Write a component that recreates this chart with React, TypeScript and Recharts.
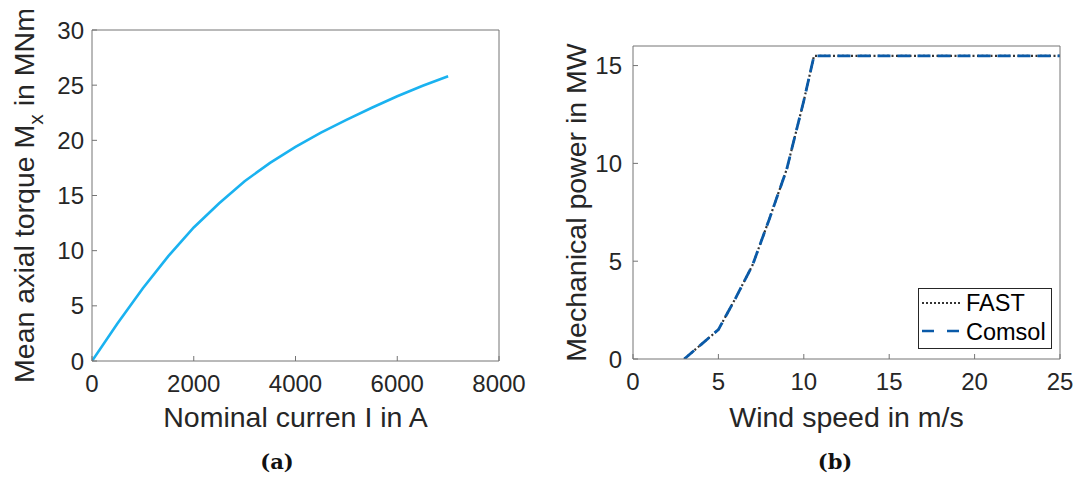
import { LineChart, Line, XAxis, YAxis } from 'recharts'

// (a) torque vs current
const currentA = [0, 500, 1000, 1500, 2000, 2500, 3000, 3500, 4000, 4500, 5000, 5500, 6000, 6500, 7000]
const torqueMNm = [0, 3.4, 6.6, 9.5, 12.1, 14.3, 16.3, 17.95, 19.4, 20.7, 21.85, 22.95, 24.0, 24.95, 25.8]
const currentTicks = [0, 2000, 4000, 6000, 8000]
const torqueTicks = [0, 5, 10, 15, 20, 25, 30]

// (b) power curve
const windSpeed = [3, 4, 5, 6, 7, 8, 9, 10, 10.6, 12, 14, 16, 18, 20, 22, 25]
const powerFast = [0, 0.75, 1.5, 3.1, 4.8, 7.2, 9.7, 13.2, 15.5, 15.5, 15.5, 15.5, 15.5, 15.5, 15.5, 15.5]
const powerComsol = [0, 0.75, 1.5, 3.1, 4.8, 7.2, 9.7, 13.2, 15.5, 15.5, 15.5, 15.5, 15.5, 15.5, 15.5, 15.5]
const windTicks = [0, 5, 10, 15, 20, 25]
const powerTicks = [0, 5, 10, 15]
const seriesNames = ['FAST', 'Comsol']

const torqueData = currentA.map((c, i) => ({ current: c, torque: torqueMNm[i] }))
const powerData = windSpeed.map((w, i) => ({ wind: w, fast: powerFast[i], comsol: powerComsol[i] }))

const AXIS = '#747474'
const TEXT = '#262626'
const FONT = '"Liberation Sans", Arial, Helvetica, sans-serif'
const TITLE = 28.5
const FAST_COLOR = '#333'
const COMSOL_COLOR = '#0A5AA8'
const tickStyle = { fontSize: 24, fill: TEXT, fontFamily: FONT }

function XTitle({ viewBox, text, dy }: any) {
  const vb = viewBox ?? { x: 0, y: 0, width: 0, height: 0 }
  return (
    <text x={vb.x + vb.width / 2} y={vb.y + dy} textAnchor="middle" fontSize={TITLE} fill={TEXT} fontFamily={FONT}>
      {text}
    </text>
  )
}

function TorqueTitle({ viewBox }: any) {
  const vb = viewBox ?? { x: 0, y: 30, width: 92, height: 331 }
  const cx = vb.x + 34
  const cy = vb.y + vb.height / 2
  return (
    <text x={cx} y={cy} transform={`rotate(-90, ${cx}, ${cy})`} textAnchor="middle" fontSize={TITLE} fill={TEXT} fontFamily={FONT}>
      Mean axial torque M<tspan fontSize={21} dy={9}>x</tspan>
      <tspan dy={-9}> in MNm</tspan>
    </text>
  )
}

function PowerTitle({ viewBox }: any) {
  const vb = viewBox ?? { x: 0, y: 46, width: 93, height: 313 }
  const cx = vb.x + 46
  const cy = vb.y + vb.height / 2
  return (
    <text x={cx} y={cy} transform={`rotate(-90, ${cx}, ${cy})`} textAnchor="middle" fontSize={TITLE} fill={TEXT} fontFamily={FONT}>
      Mechanical power in MW
    </text>
  )
}

// legend box drawn over panel (b)
function PowerLegend() {
  return (
    <svg width={134} height={61} style={{ display: 'block' }}>
      <rect x={0.5} y={0.5} width={133} height={60} fill="#fff" stroke={TEXT} strokeWidth={1} />
      <line x1={4} x2={42} y1={15} y2={15} stroke={FAST_COLOR} strokeWidth={2} strokeDasharray="2 2" />
      <text x={48} y={23} fontSize={23.5} fill="#000" fontFamily={FONT}>{seriesNames[0]}</text>
      <line x1={4} x2={42} y1={43} y2={43} stroke={COMSOL_COLOR} strokeWidth={2.6} strokeDasharray="12 13" />
      <text x={48} y={52} fontSize={23.5} fill="#000" fontFamily={FONT}>{seriesNames[1]}</text>
    </svg>
  )
}

const caption = { position: 'absolute' as const, width: 80, textAlign: 'center' as const, top: 450, fontFamily: '"DejaVu Serif", serif', fontWeight: 700, fontSize: 21, lineHeight: '24px', color: '#111' }

export default function App() {
  return (
    <div style={{ position: 'absolute', left: 0, top: 0, width: 1078, height: 477, background: '#fff' }}>
      <div style={{ position: 'absolute', left: 0, top: 0 }}>
        <LineChart width={540} height={440} data={torqueData} margin={{ top: 29, right: 40, bottom: 0, left: 0 }}>
          <XAxis dataKey="current" type="number" domain={[0, 8000]} ticks={currentTicks} allowDataOverflow height={79}
            tick={tickStyle} tickSize={-5} tickMargin={19} stroke={AXIS} interval={0}
            label={<XTitle text="Nominal curren I in A" dy={66} />} />
          <XAxis xAxisId="t" orientation="top" dataKey="current" type="number" domain={[0, 8000]} ticks={currentTicks}
            allowDataOverflow height={1} tick={false} tickSize={-5} stroke={AXIS} />
          <YAxis type="number" domain={[0, 30]} ticks={torqueTicks} allowDataOverflow width={92}
            tick={tickStyle} tickSize={-5} tickMargin={13} stroke={AXIS} interval={0}
            label={<TorqueTitle />} />
          <YAxis yAxisId="r" orientation="right" type="number" domain={[0, 30]} ticks={torqueTicks} allowDataOverflow
            width={1} tick={false} tickSize={-5} stroke={AXIS} />
          <Line dataKey="torque" type="linear" stroke="#1AB2F0" strokeWidth={2.6} dot={false} isAnimationActive={false} />
        </LineChart>
      </div>
      <div style={{ position: 'absolute', left: 540, top: 0 }}>
        <LineChart width={538} height={440} data={powerData} margin={{ top: 45, right: 17, bottom: 0, left: 0 }}>
          <XAxis dataKey="wind" type="number" domain={[0, 25]} ticks={windTicks} allowDataOverflow height={81}
            tick={tickStyle} tickSize={-5} tickMargin={19} stroke={AXIS} interval={0}
            label={<XTitle text="Wind speed in m/s" dy={68} />} />
          <XAxis xAxisId="t" orientation="top" dataKey="wind" type="number" domain={[0, 25]} ticks={windTicks}
            allowDataOverflow height={1} tick={false} tickSize={-5} stroke={AXIS} />
          <YAxis type="number" domain={[0, 16]} ticks={powerTicks} allowDataOverflow width={93}
            tick={tickStyle} tickSize={-5} tickMargin={16} stroke={AXIS} interval={0}
            label={<PowerTitle />} />
          <YAxis yAxisId="r" orientation="right" type="number" domain={[0, 16]} ticks={powerTicks} allowDataOverflow
            width={1} tick={false} tickSize={-5} stroke={AXIS} />
          <Line dataKey="fast" name={seriesNames[0]} type="linear" stroke={FAST_COLOR} strokeWidth={2.2} strokeDasharray="2 2.5" dot={false} isAnimationActive={false} />
          <Line dataKey="comsol" name={seriesNames[1]} type="linear" stroke={COMSOL_COLOR} strokeWidth={2.8} strokeDasharray="13 7" dot={false} isAnimationActive={false} />
        </LineChart>
      </div>
      <div style={{ position: 'absolute', left: 918, top: 288 }}>
        <PowerLegend />
      </div>
      <div style={{ ...caption, left: 237 }}>(a)</div>
      <div style={{ ...caption, left: 795 }}>(b)</div>
    </div>
  )
}
